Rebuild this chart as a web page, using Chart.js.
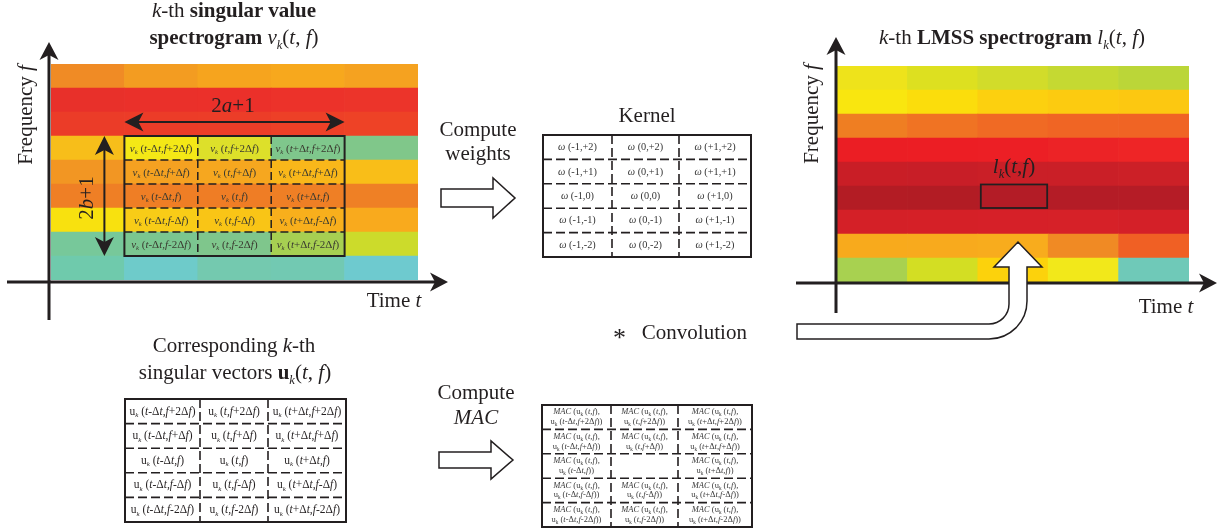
<!DOCTYPE html>
<html>
<head>
<meta charset="utf-8">
<script src="https://cdn.jsdelivr.net/npm/chart.js@4.4.0/dist/chart.umd.min.js"></script>
<style>
html, body { margin: 0; padding: 0; background: #fff; }
#page { position: relative; width: 1223px; height: 531px; overflow: hidden;
        font-family: 'Liberation Serif', 'DejaVu Serif', serif; color: #231f20; }
#page canvas { position: absolute; top: 0; }
.t { position: absolute; white-space: nowrap; line-height: 1; transform: translateX(-50%); }
.r { position: absolute; white-space: nowrap; line-height: 1; transform: translate(-50%, -50%) rotate(-90deg); }
.s { font-size: 0.6em; position: relative; top: 0.38em; }
.cell { position: absolute; display: flex; align-items: center; justify-content: center;
        text-align: center; white-space: nowrap; line-height: 1.15; }
#overlay { position: absolute; left: 0; top: 0; }
</style>
</head>
<body>
<div id="page">
  <canvas id="svChart" width="460" height="330" style="left:0"></canvas>
  <canvas id="lmssChart" width="443" height="330" style="left:780px"></canvas>
  <svg id="overlay" width="1223" height="531"></svg>
</div>
<script>
// --- dados ---
const timeBins = ['t1', 't2', 't3', 't4', 't5'];
const freqBins = ['f1', 'f2', 'f3', 'f4', 'f5', 'f6', 'f7', 'f8', 'f9'];

// cores do espectrograma de valores singulares (linha de cima -> linha de baixo)
const svColors = [
  ['#F08B25', '#F39C21', '#F6A41E', '#F7A81D', '#F5A220'],
  ['#E8302A', '#EA302A', '#EB302A', '#EC322A', '#EC342A'],
  ['#EB3C28', '#EC3C28', '#EC3D28', '#ED4027', '#EE4226'],
  ['#F7BE1A', '#F4E816', '#DDE02A', '#7FC78C', '#80C78A'],
  ['#F29623', '#F5A121', '#F6A71F', '#F9B71A', '#F9BE18'],
  ['#EF7F25', '#EF7E25', '#EF7D25', '#EF7F25', '#EF8025'],
  ['#F8E10F', '#F8CC17', '#F9C516', '#F8AF1C', '#F9AA1D'],
  ['#77C89A', '#7BC690', '#7FC68C', '#A7CF52', '#CCDB2B'],
  ['#6FCAAC', '#6ECBCA', '#74C9AF', '#72C9B2', '#6ECACF']
];

// cores do espectrograma LMSS
const lmssColors = [
  ['#EEE31B', '#DDE020', '#D2DC2A', '#C5D932', '#BBD638'],
  ['#F9E60F', '#FBDD0C', '#FCD00F', '#FCCB10', '#FCC811'],
  ['#EF7E22', '#F07323', '#F06A24', '#F06524', '#F06424'],
  ['#EB1E24', '#EC1E24', '#EC1F25', '#EC2326', '#EE2526'],
  ['#C91E26', '#C81E27', '#CA1F27', '#CA1F27', '#CC2027'],
  ['#B31C24', '#B21C24', '#B31C26', '#B41C26', '#B51C26'],
  ['#D42027', '#D52027', '#D62028', '#D62128', '#D42028'],
  ['#F8AA1C', '#F8AA1D', '#F8AC1D', '#F08A24', '#F06024'],
  ['#A8D150', '#D3DE23', '#FCD20C', '#F2E81A', '#6FC9B8']
];

// deslocamentos da vizinhanca (2a+1 = 3 colunas, 2b+1 = 5 linhas)
const timeOffsets = ['-Δt', '', '+Δt'];
const freqOffsets = ['+2Δf', '+Δf', '', '-Δf', '-2Δf'];
const kernelCols = ['-1', '0', '+1'];
const kernelRows = ['+2', '+1', '0', '-1', '-2'];

const ink = '#231f20';
const page = document.getElementById('page');
const svg = document.getElementById('overlay');
const NS = 'http://www.w3.org/2000/svg';

// t e f em italico
function ital(s) { return s.replace(/([tf])/g, '<i>$1</i>'); }
function sub(s) { return '<span class="s">' + s + '</span>'; }
function args(c, r) {
  return '(' + ital('t' + timeOffsets[c]) + ',' + ital('f' + freqOffsets[r]) + ')';
}

function text(html, cx, baseline, size, extra) {
  const d = document.createElement('div');
  d.className = 't';
  d.style.left = cx + 'px';
  d.style.top = (baseline - 0.8375 * size) + 'px';
  d.style.fontSize = size + 'px';
  if (extra) d.style.cssText += extra;
  d.innerHTML = html;
  page.appendChild(d);
}
function vtext(html, baselineX, cy, size) {
  const d = document.createElement('div');
  d.className = 'r';
  d.style.left = (baselineX - 0.3375 * size) + 'px';
  d.style.top = cy + 'px';
  d.style.fontSize = size + 'px';
  d.innerHTML = html;
  page.appendChild(d);
}

function cell(html, x, y, w, h, size, color) {
  const d = document.createElement('div');
  d.className = 'cell';
  d.style.left = x + 'px';
  d.style.top = y + 'px';
  d.style.width = w + 'px';
  d.style.height = h + 'px';
  d.style.fontSize = size + 'px';
  d.style.color = color;
  d.innerHTML = '<span>' + html + '</span>';
  page.appendChild(d);
}

function svgEl(tag, attrs) {
  const e = document.createElementNS(NS, tag);
  for (const k in attrs) e.setAttribute(k, attrs[k]);
  svg.appendChild(e);
  return e;
}

// tabela com borda cheia e divisorias tracejadas
function table(colEdges, top, bottom, cellHtml, size, color) {
  const n = 5, h = (bottom - top) / n;
  for (let r = 0; r < n; r++) {
    for (let c = 0; c < colEdges.length - 1; c++) {
      cell(cellHtml(c, r), colEdges[c], top + r * h, colEdges[c + 1] - colEdges[c], h, size, color);
    }
  }
  const dash = { stroke: ink, 'stroke-width': 1.6, 'stroke-dasharray': '9 4', fill: 'none' };
  for (let r = 1; r < n; r++) {
    const y = top + r * h;
    svgEl('line', Object.assign({ x1: colEdges[0], y1: y, x2: colEdges[colEdges.length - 1], y2: y }, dash));
  }
  for (let c = 1; c < colEdges.length - 1; c++) {
    svgEl('line', Object.assign({ x1: colEdges[c], y1: top, x2: colEdges[c], y2: bottom }, dash));
  }
  svgEl('rect', { x: colEdges[0], y: top, width: colEdges[colEdges.length - 1] - colEdges[0],
                  height: bottom - top, fill: 'none', stroke: ink, 'stroke-width': 2 });
}

// seta vazada para a direita
function hollowArrow(x0, headX, tipX, cy, shaft, head) {
  const d = `M${x0},${cy - shaft} L${headX},${cy - shaft} L${headX},${cy - head} L${tipX},${cy} ` +
            `L${headX},${cy + head} L${headX},${cy + shaft} L${x0},${cy + shaft} Z`;
  svgEl('path', { d, fill: '#fff', stroke: ink, 'stroke-width': 1.5, 'stroke-linejoin': 'miter' });
}

// ponta de seta (estilo illustrator)
function arrowHead(ctx, tx, ty, dx, dy, L, W, notch) {
  const nx = -dy, ny = dx;
  ctx.beginPath();
  ctx.moveTo(tx, ty);
  ctx.lineTo(tx - dx * L + nx * W, ty - dy * L + ny * W);
  ctx.lineTo(tx - dx * notch, ty - dy * notch);
  ctx.lineTo(tx - dx * L - nx * W, ty - dy * L - ny * W);
  ctx.closePath();
  ctx.fill();
}
function doubleArrow(ctx, x0, y0, x1, y1) {
  const len = Math.hypot(x1 - x0, y1 - y0), dx = (x1 - x0) / len, dy = (y1 - y0) / len;
  ctx.lineWidth = 2;
  ctx.beginPath();
  ctx.moveTo(x0 + dx * 10, y0 + dy * 10);
  ctx.lineTo(x1 - dx * 10, y1 - dy * 10);
  ctx.stroke();
  arrowHead(ctx, x1, y1, dx, dy, 19, 9.5, 14);
  arrowHead(ctx, x0, y0, -dx, -dy, 19, 9.5, 14);
}

// plugin: eixos, caixa da vizinhanca e marcacao
const diagramPlugin = {
  id: 'diagram',
  afterDatasetsDraw(chart, args, o) {
    const ctx = chart.ctx, a = chart.chartArea;
    const cw = a.width / timeBins.length, ch = a.height / freqBins.length;
    ctx.save();
    ctx.strokeStyle = ink;
    ctx.fillStyle = ink;

    const ax = o.axes;
    ctx.lineWidth = 3;
    ctx.beginPath();
    ctx.moveTo(ax.x, ax.bottom); ctx.lineTo(ax.x, ax.top + 10);
    ctx.moveTo(ax.left, ax.y); ctx.lineTo(ax.right - 10, ax.y);
    ctx.stroke();
    arrowHead(ctx, ax.x, ax.top, 0, -1, 18, 9.5, 13);
    arrowHead(ctx, ax.right, ax.y, 1, 0, 18, 9.5, 13);

    if (o.box) {
      const b = o.box;
      const x0 = a.left + b.c0 * cw, x1 = a.left + b.c1 * cw;
      const y0 = a.top + b.r0 * ch, y1 = a.top + b.r1 * ch;
      ctx.lineWidth = 1.5;
      ctx.setLineDash([8, 4]);
      ctx.beginPath();
      for (let c = b.c0 + 1; c < b.c1; c++) {
        ctx.moveTo(a.left + c * cw, y0); ctx.lineTo(a.left + c * cw, y1);
      }
      for (let r = b.r0 + 1; r < b.r1; r++) {
        ctx.moveTo(x0, a.top + r * ch); ctx.lineTo(x1, a.top + r * ch);
      }
      ctx.stroke();
      ctx.setLineDash([]);
      ctx.lineWidth = 2;
      ctx.strokeRect(x0, y0, x1 - x0, y1 - y0);
      doubleArrow(ctx, x0, y0 - 14, x1, y0 - 14);
      doubleArrow(ctx, x0 - 20, y0, x0 - 20, y1);
    }
    if (o.mark) {
      const x = a.left + o.mark.c * cw, y = a.top + o.mark.r * ch;
      ctx.lineWidth = 1.8;
      ctx.strokeRect(x + 3, y - 1.5, cw - 4, ch - 0.5);
    }
    ctx.restore();
  }
};

function spectrogram(id, colors, padding, diagram) {
  return new Chart(document.getElementById(id), {
    type: 'bar',
    data: {
      labels: timeBins,
      datasets: freqBins.map((f, i) => ({
        label: f,
        data: timeBins.map(() => 1),
        backgroundColor: colors[freqBins.length - 1 - i],
        borderWidth: 0,
        barPercentage: 1,
        categoryPercentage: 1
      }))
    },
    options: {
      responsive: false,
      animation: false,
      events: [],
      layout: { padding },
      scales: {
        x: { stacked: true, display: false },
        y: { stacked: true, display: false, min: 0, max: freqBins.length }
      },
      plugins: {
        legend: { display: false },
        tooltip: { enabled: false },
        diagram
      }
    },
    plugins: [diagramPlugin]
  });
}

const svChart = spectrogram('svChart', svColors,
  { left: 51, right: 42, top: 64, bottom: 50 },
  { axes: { x: 49, y: 282, top: 42, bottom: 320, left: 7, right: 448 },
    box: { c0: 1, c1: 4, r0: 3, r1: 8 } });

const lmssChart = spectrogram('lmssChart', lmssColors,
  { left: 57, right: 34, top: 66, bottom: 48 },
  { axes: { x: 56, y: 283, top: 37, bottom: 313, left: 16, right: 437 },
    mark: { c: 2, r: 5 } });

// textos dentro da caixa (2a+1) x (2b+1)
(function () {
  const a = svChart.chartArea;
  const cw = a.width / timeBins.length, ch = a.height / freqBins.length;
  const edges = [1, 2, 3, 4].map(c => a.left + c * cw);
  for (let r = 0; r < freqOffsets.length; r++) {
    for (let c = 0; c < timeOffsets.length; c++) {
      cell('<i>v</i>' + sub('<i>k</i>') + ' ' + args(c, r),
        edges[c], a.top + (3 + r) * ch, edges[c + 1] - edges[c], ch, 11, '#3a3a30');
    }
  }
})();

// tabelas
table([543, 612, 679, 751], 135, 257,
  (c, r) => '<i>ω</i> (' + kernelCols[c] + ',' + kernelRows[r] + ')', 10.3, '#333');

table([125, 200, 268, 346], 399, 522,
  (c, r) => 'u' + sub('<i>k</i>') + ' ' + args(c, r), 11.5, '#231f20');

table([542, 611, 678, 752], 405, 527,
  (c, r) => (c === 1 && r === 2) ? '' :
    '<i>MAC</i> (u' + sub('k') + ' (<i>t</i>,<i>f</i>),<br>u' + sub('k') + ' ' + args(c, r) + ')',
  8.5, '#3a3a3a');

// setas vazadas
hollowArrow(441, 493, 515, 198, 9, 20);
hollowArrow(439, 491, 513, 460, 8, 19);
svgEl('path', {
  d: 'M797,324 L989,324 A20,20 0 0 0 1009,304 L1009,267 L994,267 L1018,242 L1042,267 L1027,267 ' +
     'L1027,301 A38,38 0 0 1 989,339 L797,339 Z',
  fill: '#fff', stroke: ink, 'stroke-width': 1.5
});

// titulos e rotulos
const F = 21;
text('<i>k</i>-th <b>singular value</b>', 234, 18, F);
text('<b>spectrogram</b> <i>v</i>' + sub('<i>k</i>') + '(<i>t</i>, <i>f</i>)', 234, 45, F);
vtext('Frequency <i>f</i>', 32, 115, F);
text('Time <i>t</i>', 394, 308, F);
text('2<i>a</i>+1', 233, 113, F);
vtext('2<i>b</i>+1', 93, 198, F);

text('Compute', 478, 137, F);
text('weights', 478, 161, F);
text('Kernel', 647, 123, F);
text('<span style="font-size:26px;line-height:0;position:relative;top:7px">*</span>&nbsp;&nbsp; Convolution', 680, 340, F);

text('Corresponding <i>k</i>-th', 234, 353, F);
text('singular vectors <b>u</b>' + sub('<i>k</i>') + '(<i>t</i>, <i>f</i>)', 235, 380, F);
text('Compute', 476, 400, F);
text('<i>MAC</i>', 476, 425, F);

text('<i>k</i>-th <b>LMSS spectrogram</b> <i>l</i>' + sub('<i>k</i>') + '(<i>t</i>, <i>f</i>)', 1012, 45, F);
vtext('Frequency <i>f</i>', 818, 114, F);
text('Time <i>t</i>', 1166, 314, F);
text('<i>l</i>' + sub('<i>k</i>') + '(<i>t</i>,<i>f</i>)', 1014, 174, F);
</script>
</body>
</html>
